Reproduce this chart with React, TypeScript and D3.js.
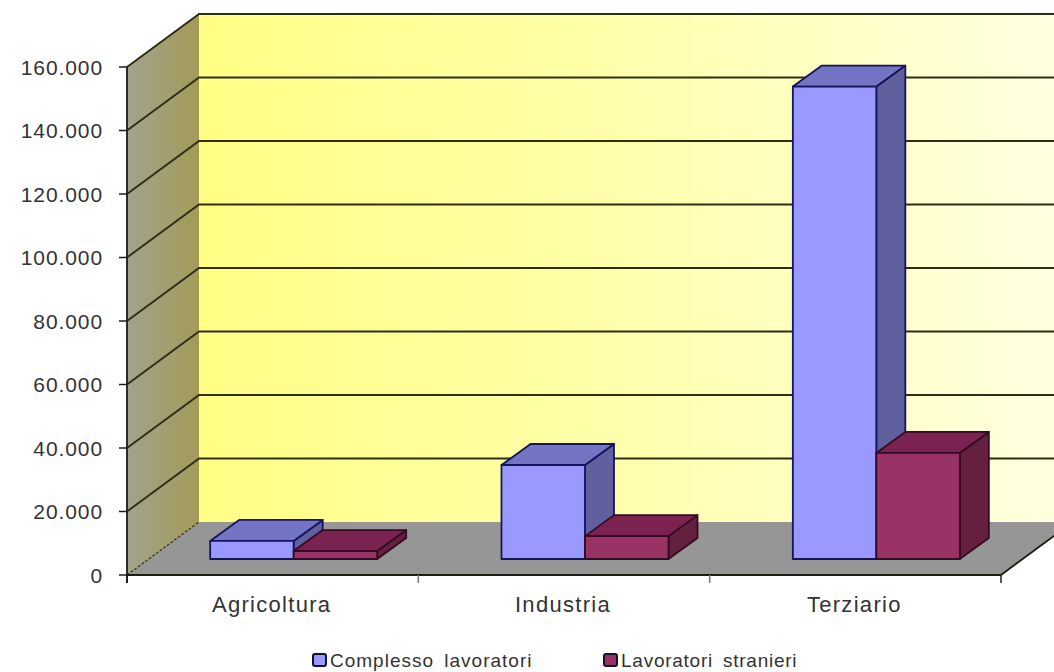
import React from "react";
import * as d3 from "d3";

const categories = ["Agricoltura", "Industria", "Terziario"];
const complessoLavoratori = [5700, 29600, 148800];
const lavoratoriStranieri = [2500, 7200, 33400];
const valueTicks = [0, 20000, 40000, 60000, 80000, 100000, 120000, 140000, 160000];
const seriesNames = ["Complesso lavoratori", "Lavoratori stranieri"];

const WIDTH = 1054;
const HEIGHT = 672;
const FONT = "'Liberation Sans', Arial, sans-serif";

// Oblique projection: depth runs up and to the right of the front plane.
const DEPTH_X = 72;
const DEPTH_Y = -53;
const BAR_SHIFT_X = 21;
const BAR_SHIFT_Y = -16;
const BAR_DEPTH_X = 29;
const BAR_DEPTH_Y = -21;

const y = d3.scaleLinear().domain([0, 160000]).range([575, 67]);
const x = d3.scaleBand<string>().domain(categories).range([127, 1001]).paddingInner(0).paddingOuter(0);
const barWidth = 83.5;

const formatIt = (v: number) => d3.format(",")(v).replace(/,/g, ".");
const poly = (pts: [number, number][]) => pts.map((p) => p.join(",")).join(" ");

const palette = [
  { front: "#9999ff", top: "#7474c4", side: "#60609f", stroke: "#14145a" },
  { front: "#993366", top: "#7a2250", side: "#63203f", stroke: "#350a22" },
];

function Bar({ left, value, tone }: { left: number; value: number; tone: number }) {
  const c = palette[tone];
  const x0 = left;
  const x1 = left + barWidth;
  const base = y(0) + BAR_SHIFT_Y;
  const top = y(value) + BAR_SHIFT_Y;
  const dx = BAR_DEPTH_X;
  const dy = BAR_DEPTH_Y;
  return (
    <g stroke={c.stroke} strokeWidth={1.8} strokeLinejoin="round">
      <polygon points={poly([[x1, base], [x1 + dx, base + dy], [x1 + dx, top + dy], [x1, top]])} fill={c.side} />
      <polygon points={poly([[x0, top], [x1, top], [x1 + dx, top + dy], [x0 + dx, top + dy]])} fill={c.top} />
      <rect x={x0} y={top} width={barWidth} height={base - top} fill={c.front} />
    </g>
  );
}

export default function App() {
  const back = (py: number): [number, number] => [127 + DEPTH_X, py + DEPTH_Y];
  const wallRight = WIDTH + 2;
  const floorY = y(0);
  const topY = y(160000);
  const axisColor = "#1c1c10";
  const textColor = "#333333";

  return (
    <svg
      width={WIDTH}
      height={HEIGHT}
      viewBox={`0 0 ${WIDTH} ${HEIGHT}`}
      style={{ position: "absolute", left: 0, top: 0, background: "#fff" }}
    >
      <defs>
        <linearGradient id="wallBack" x1="0" x2="1" y1="0" y2="0">
          <stop offset="0" stopColor="#ffff85" />
          <stop offset="0.45" stopColor="#ffffa8" />
          <stop offset="1" stopColor="#ffffe0" />
        </linearGradient>
        <linearGradient id="wallSide" x1="0" x2="1" y1="0" y2="0">
          <stop offset="0" stopColor="#a3a28c" />
          <stop offset="1" stopColor="#a29b58" />
        </linearGradient>
      </defs>

      {/* Side wall, back wall and floor */}
      <polygon
        points={poly([[127, topY], back(topY), back(floorY), [127, floorY]])}
        fill="url(#wallSide)"
      />
      <polygon
        points={poly([back(topY), [wallRight, topY + DEPTH_Y], [wallRight, floorY + DEPTH_Y], back(floorY)])}
        fill="url(#wallBack)"
      />
      <polygon
        points={poly([[127, floorY], [1001, floorY], [1001 + DEPTH_X, floorY + DEPTH_Y], back(floorY)])}
        fill="#969696"
      />

      {/* Gridlines folded across the side and back walls */}
      {valueTicks.map((t) =>
        t === 0 ? null : (
          <polyline
            key={t}
            points={poly([[127, y(t)], back(y(t)), [wallRight, y(t) + DEPTH_Y]])}
            fill="none"
            stroke="#2e2e14"
            strokeWidth={1.9}
          />
        )
      )}
      <line x1={127} y1={floorY} x2={back(floorY)[0]} y2={back(floorY)[1]} stroke="#33331c" strokeWidth={1.2} strokeDasharray="3 1.5" />
      <line x1={1001} y1={floorY} x2={1001 + DEPTH_X} y2={floorY + DEPTH_Y} stroke={axisColor} strokeWidth={1.8} />

      {/* Bars */}
      {categories.map((cat, i) => {
        const centre = (x(cat) as number) + x.bandwidth() / 2 + BAR_SHIFT_X;
        return (
          <g key={cat}>
            <Bar left={centre - barWidth} value={complessoLavoratori[i]} tone={0} />
            <Bar left={centre} value={lavoratoriStranieri[i]} tone={1} />
          </g>
        );
      })}

      {/* Axes */}
      <line x1={127} y1={topY} x2={127} y2={floorY + 8} stroke={axisColor} strokeWidth={1.8} />
      <line x1={127} y1={floorY} x2={1001} y2={floorY} stroke={axisColor} strokeWidth={1.8} />
      {[0, 1, 2, 3].map((i) => {
        const px = 127 + i * x.step();
        return <line key={i} x1={px} y1={floorY} x2={px} y2={floorY + 8} stroke={i === 0 || i === 3 ? axisColor : "#777"} strokeWidth={1.5} />;
      })}
      {valueTicks.map((t) => (
        <g key={t}>
          <line x1={119} y1={y(t)} x2={127} y2={y(t)} stroke={axisColor} strokeWidth={1.5} />
          <text
            x={103}
            y={y(t) + 7.5}
            textAnchor="end"
            fontFamily={FONT}
            fontSize={21}
            letterSpacing={0.9}
            fill={textColor}
          >
            {t === 0 ? "0" : formatIt(t)}
          </text>
        </g>
      ))}
      {categories.map((cat) => (
        <text
          key={cat}
          x={(x(cat) as number) + x.bandwidth() / 2 - 1}
          y={612}
          textAnchor="middle"
          fontFamily={FONT}
          fontSize={22}
          letterSpacing={1.3}
          fill={textColor}
        >
          {cat}
        </text>
      ))}

      {/* Legend */}
      {seriesNames.map((name, i) => {
        const lx = i === 0 ? 313 : 604;
        return (
          <g key={name}>
            <rect x={lx} y={654} width={13} height={12} rx={2} fill={palette[i].front} stroke="#12122c" strokeWidth={2} />
            <text x={lx + 17} y={667} fontFamily={FONT} fontSize={19} letterSpacing={i === 0 ? 1 : 0.75} wordSpacing={4} fill={textColor}>
              {name}
            </text>
          </g>
        );
      })}
    </svg>
  );
}
